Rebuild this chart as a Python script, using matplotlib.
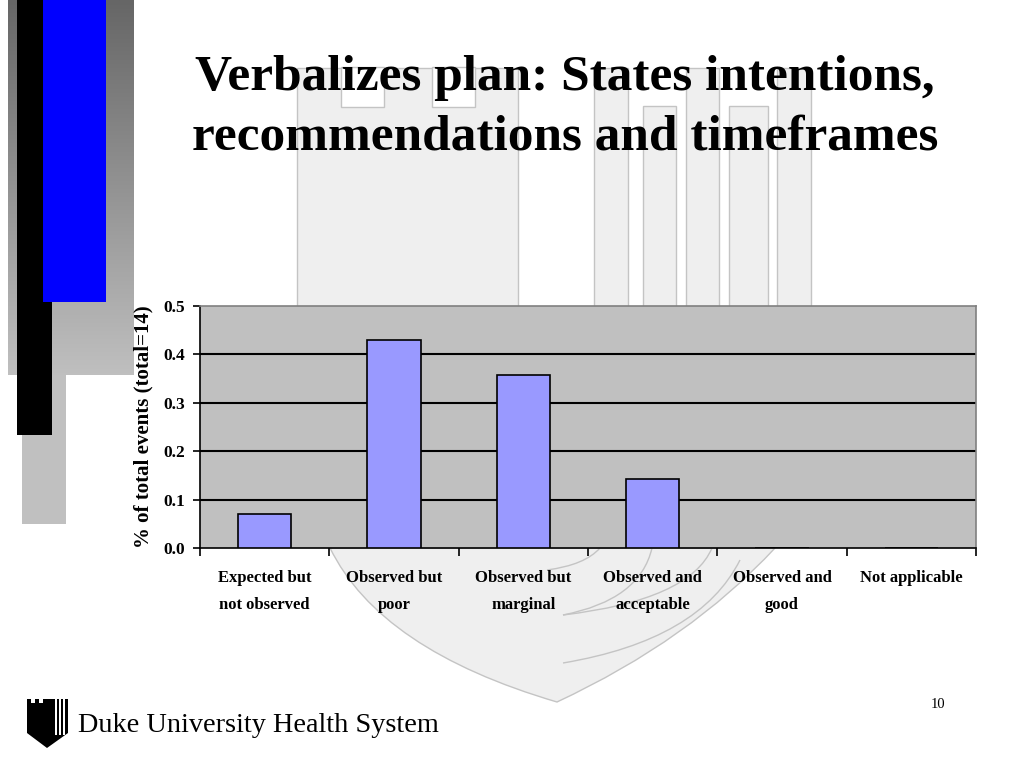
import numpy as np
import matplotlib
matplotlib.use('Agg')
import matplotlib.pyplot as plt
from matplotlib.patches import Rectangle, Polygon, PathPatch
from matplotlib.path import Path

# ========== data ==========
categories = ['Expected but\nnot observed', 'Observed but\npoor', 'Observed but\nmarginal',
              'Observed and\nacceptable', 'Observed and\ngood', 'Not applicable']
share = [0.071, 0.429, 0.357, 0.143, 0.0, 0.0]
y_ticks = [0.0, 0.1, 0.2, 0.3, 0.4, 0.5]
y_label = '% of total events (total=14)'
title = 'Verbalizes plan: States intentions,\nrecommendations and timeframes'
footer = 'Duke University Health System'
page_no = '10'
# ==========================

plt.rcParams['font.family'] = ['Liberation Serif', 'DejaVu Serif']

fig = plt.figure(figsize=(10.24, 7.68), dpi=100)
fig.patch.set_facecolor('white')

# 背景装饰 (pixel coords)
bg = fig.add_axes([0, 0, 1, 1], zorder=0)
bg.set_xlim(0, 1024)
bg.set_ylim(768, 0)
bg.axis('off')

wm_face, wm_edge = '#efefef', '#c4c4c4'

# watermark: tower + fingers
bg.add_patch(Rectangle((297, 68), 221, 250, facecolor=wm_face, edgecolor=wm_edge, lw=1))
for x0 in (341, 432):
    bg.add_patch(Rectangle((x0, 67), 43, 40, facecolor='white', edgecolor=wm_edge, lw=1))
for x0, x1, top in [(594, 628, 68), (643, 676, 106), (686, 719, 68), (729, 768, 106), (777, 811, 68)]:
    bg.add_patch(Rectangle((x0, top), x1 - x0, 320 - top, facecolor=wm_face, edgecolor=wm_edge, lw=1))

# shield bottom
verts = [(330, 548), (380, 650), (557, 702), (690, 640), (775, 548), (330, 548)]
codes = [Path.MOVETO, Path.CURVE3, Path.CURVE3, Path.CURVE3, Path.CURVE3, Path.CLOSEPOLY]
bg.add_patch(PathPatch(Path(verts, codes), facecolor=wm_face, edgecolor=wm_edge, lw=1))
for p0, c, p1 in [((563, 615), (640, 600), (652, 548)),
                  ((563, 615), (690, 600), (712, 548)),
                  ((563, 663), (700, 640), (740, 560)),
                  ((547, 570), (585, 565), (600, 548))]:
    pth = Path([p0, c, p1], [Path.MOVETO, Path.CURVE3, Path.CURVE3])
    bg.add_patch(PathPatch(pth, facecolor='none', edgecolor=wm_edge, lw=1))

# left bars
grad = np.linspace(0.40, 0.75, 200).reshape(-1, 1)
bg.imshow(np.dstack([grad, grad, grad]), extent=(8, 134, 375, 0), aspect='auto', zorder=1)
bg.add_patch(Rectangle((22, 375), 44, 149, facecolor='#c0c0c0', edgecolor='none', zorder=1))
bg.add_patch(Rectangle((17, 0), 35, 435, facecolor='black', edgecolor='none', zorder=2))
bg.add_patch(Rectangle((43, 0), 63, 302, facecolor='#0000ff', edgecolor='none', zorder=3))

# footer logo
shield = [(27, 699), (27, 733), (47, 748), (68, 733), (68, 699)]
bg.add_patch(Polygon(shield, closed=True, facecolor='black', edgecolor='none', zorder=2))
for x0 in (31, 39):
    bg.add_patch(Rectangle((x0, 698), 4, 5, facecolor='white', edgecolor='none', zorder=3))
for x0 in (55, 59, 63):
    bg.add_patch(Rectangle((x0, 699), 1.5, 36, facecolor='white', edgecolor='none', zorder=3))

bg.text(78, 732, footer, fontsize=20.3, ha='left', va='baseline', color='black')
bg.text(938, 708, page_no, fontsize=10.5, ha='center', va='baseline', color='black')

bg.text(565, 150, title, fontsize=37, fontweight='bold', ha='center', va='baseline',
        multialignment='center', linespacing=1.4, color='black')

# 主图
ax = fig.add_axes([200 / 1024, 1 - 548 / 768, 776 / 1024, 242 / 768], zorder=2)
ax.set_facecolor('#c0c0c0')

x = np.arange(len(categories)) + 0.5
for yv in y_ticks[1:-1]:
    ax.axhline(yv, color='black', linewidth=1.5, zorder=1)
ax.bar(x, share, width=0.41, color='#9999ff', edgecolor='black', linewidth=1.2, zorder=3)

ax.set_xlim(0, len(categories))
ax.set_ylim(y_ticks[0], y_ticks[-1])

ax.set_yticks(y_ticks)
ax.set_yticklabels([f'{v:.1f}' for v in y_ticks], fontsize=12.5, fontweight='bold')
ax.tick_params(axis='y', direction='out', length=5, width=1.2, pad=6)

ax.set_xticks(np.arange(len(categories) + 1))
ax.set_xticklabels([])
ax.set_xticks(x, minor=True)
ax.set_xticklabels(categories, minor=True, fontsize=12, fontweight='bold', linespacing=1.9)
ax.tick_params(axis='x', which='major', direction='out', length=6, width=1.2)
ax.tick_params(axis='x', which='minor', length=0, pad=16)

ax.set_ylabel(y_label, fontsize=15, fontweight='bold', labelpad=7)

for side in ('left', 'bottom'):
    ax.spines[side].set_color('black')
    ax.spines[side].set_linewidth(1.2)
for side in ('top', 'right'):
    ax.spines[side].set_color('#808080')
    ax.spines[side].set_linewidth(1.2)

fig.savefig('out.png', dpi=100, facecolor='white')
